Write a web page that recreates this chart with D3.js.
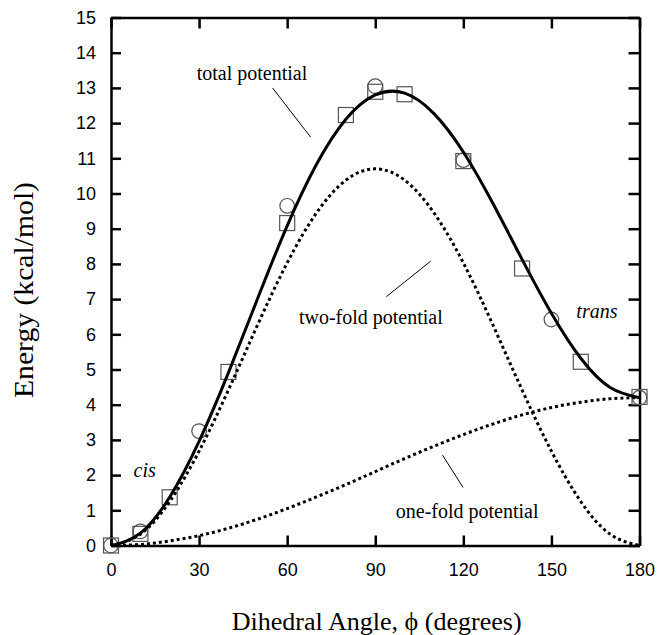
<!DOCTYPE html>
<html>
<head>
<meta charset="utf-8">
<script src="https://cdn.jsdelivr.net/npm/d3@7"></script>
<style>
  html, body { margin: 0; padding: 0; background: #fff; }
  svg { display: block; }
</style>
</head>
<body>
<svg id="chart" width="657" height="635"></svg>
<script>
// ---- data ----
const angles = [0, 10, 20, 30, 40, 50, 60, 70, 80, 90, 100, 110, 120, 130, 140, 150, 160, 170, 180];
const totalPotential = [0, 0.35, 1.38, 2.96, 4.91, 7.03, 9.08, 10.83, 12.11, 12.8, 12.85, 12.27, 11.18, 9.73, 8.13, 6.6, 5.32, 4.49, 4.2];
const twoFoldPotential = [0, 0.32, 1.25, 2.68, 4.42, 6.28, 8.03, 9.45, 10.38, 10.7, 10.38, 9.45, 8.03, 6.28, 4.42, 2.68, 1.25, 0.32, 0];
const oneFoldPotential = [0, 0.03, 0.13, 0.28, 0.49, 0.75, 1.05, 1.38, 1.73, 2.1, 2.47, 2.82, 3.15, 3.45, 3.71, 3.92, 4.07, 4.17, 4.2];

const squareAngles = [0, 10, 20, 40, 60, 80, 90, 100, 120, 140, 160, 180];
const squareEnergies = [0, 0.33, 1.37, 4.93, 9.16, 12.23, 12.89, 12.82, 10.92, 7.87, 5.22, 4.22];
const circleAngles = [0, 10, 30, 60, 90, 120, 150, 180];
const circleEnergies = [0, 0.4, 3.25, 9.65, 13.05, 10.95, 6.42, 4.2];

const xTicks = [0, 30, 60, 90, 120, 150, 180];
const yTicks = [0, 1, 2, 3, 4, 5, 6, 7, 8, 9, 10, 11, 12, 13, 14, 15];

const labels = [
  { text: "total potential", angle: 29.2, energy: 13.22, italic: false, lineFrom: [55, 13.0], lineTo: [68, 11.6] },
  { text: "two-fold potential", angle: 64, energy: 6.29, italic: false, lineFrom: [93.8, 7.07], lineTo: [108.9, 8.08] },
  { text: "one-fold potential", angle: 97, energy: 0.78, italic: false, lineFrom: [112.9, 2.57], lineTo: [119.9, 1.65] },
  { text: "cis", angle: 7.7, energy: 1.96, italic: true },
  { text: "trans", angle: 158.5, energy: 6.46, italic: true }
];

// ---- layout ----
const svg = d3.select("#chart");
const plotLeft = 111, plotRight = 639.5, plotTop = 17.5, plotBottom = 545.5;
const x = d3.scaleLinear().domain([0, 180]).range([plotLeft, plotRight]);
const y = d3.scaleLinear().domain([0, 15]).range([plotBottom, plotTop]);

const serif = "'Liberation Serif', 'Times New Roman', Times, serif";
const sans = "'Liberation Sans', Arial, Helvetica, sans-serif";

// ---- axes ----
function styleAxis(g) {
  g.select(".domain").attr("stroke", "#000").attr("stroke-width", 2.5);
  g.selectAll(".tick line").attr("stroke", "#000").attr("stroke-width", 2.5);
  g.selectAll(".tick text").attr("fill", "#000").style("font-family", sans).style("font-size", "18px");
}

svg.append("g").attr("transform", `translate(0,${plotBottom})`)
  .call(d3.axisBottom(x).tickValues(xTicks).tickSizeInner(-10).tickSizeOuter(0).tickPadding(18))
  .call(styleAxis);
svg.append("g").attr("transform", `translate(0,${plotTop})`)
  .call(d3.axisTop(x).tickValues(xTicks).tickSizeInner(-11).tickSizeOuter(0).tickFormat(""))
  .call(styleAxis);
svg.append("g").attr("transform", `translate(${plotLeft},0)`)
  .call(d3.axisLeft(y).tickValues(yTicks).tickSizeInner(-10).tickSizeOuter(0).tickPadding(15))
  .call(styleAxis);
svg.append("g").attr("transform", `translate(${plotRight},0)`)
  .call(d3.axisRight(y).tickValues(yTicks).tickSizeInner(-11).tickSizeOuter(0).tickFormat(""))
  .call(styleAxis);

// ---- markers ----
const markerColor = "#555";
svg.append("g").selectAll("rect").data(squareAngles).join("rect")
  .attr("x", (d) => x(d) - 7.5)
  .attr("y", (d, i) => y(squareEnergies[i]) - 7.5)
  .attr("width", 15).attr("height", 15)
  .attr("fill", "none").attr("stroke", markerColor).attr("stroke-width", 1.2);
svg.append("g").selectAll("circle").data(circleAngles).join("circle")
  .attr("cx", (d) => x(d))
  .attr("cy", (d, i) => y(circleEnergies[i]))
  .attr("r", 7.3)
  .attr("fill", "none").attr("stroke", markerColor).attr("stroke-width", 1.2);

// ---- curves ----
const line = (vals) => d3.line().x((d) => x(d)).y((d, i) => y(vals[i])).curve(d3.curveNatural)(angles);

svg.append("path").attr("d", line(oneFoldPotential))
  .attr("fill", "none").attr("stroke", "#000").attr("stroke-width", 3).attr("stroke-dasharray", "3,3");
svg.append("path").attr("d", line(twoFoldPotential))
  .attr("fill", "none").attr("stroke", "#000").attr("stroke-width", 3).attr("stroke-dasharray", "3,3");
svg.append("path").attr("d", line(totalPotential))
  .attr("fill", "none").attr("stroke", "#000").attr("stroke-width", 3);

// ---- annotations ----
const ann = svg.append("g");
labels.forEach((l) => {
  ann.append("text")
    .attr("x", x(l.angle)).attr("y", y(l.energy))
    .style("font-family", serif).style("font-size", "20px")
    .style("font-style", l.italic ? "italic" : "normal")
    .attr("fill", "#000")
    .text(l.text);
  if (l.lineFrom) {
    ann.append("line")
      .attr("x1", x(l.lineFrom[0])).attr("y1", y(l.lineFrom[1]))
      .attr("x2", x(l.lineTo[0])).attr("y2", y(l.lineTo[1]))
      .attr("stroke", "#000").attr("stroke-width", 1);
  }
});

// ---- axis titles ----
svg.append("text")
  .attr("x", 376.7).attr("y", 630)
  .attr("text-anchor", "middle")
  .attr("textLength", 290).attr("lengthAdjust", "spacingAndGlyphs")
  .style("font-family", serif).style("font-size", "26px").attr("fill", "#000")
  .text("Dihedral Angle, \u03D5 (degrees)");
svg.append("text")
  .attr("transform", `translate(33,290) rotate(-90)`)
  .attr("text-anchor", "middle")
  .attr("textLength", 216).attr("lengthAdjust", "spacingAndGlyphs")
  .style("font-family", serif).style("font-size", "27px").attr("fill", "#000")
  .text("Energy (kcal/mol)");
</script>
</body>
</html>
